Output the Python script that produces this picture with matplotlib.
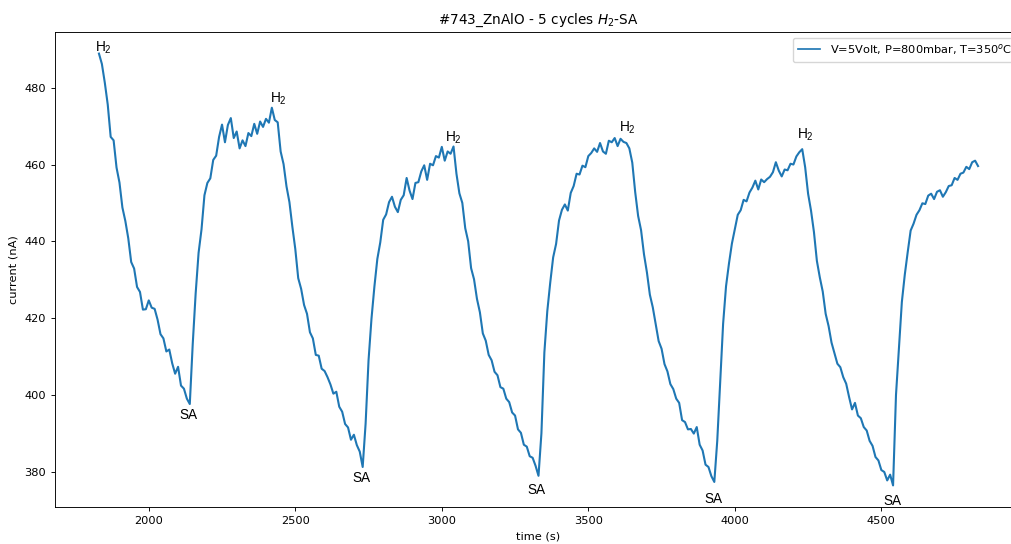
import numpy as np
import matplotlib
matplotlib.use("Agg")
import matplotlib.pyplot as plt

# current readings (nA), sampled every 10 s from t = 1830 s
current = [
    488.9, 486.2, 481.3, 475.6, 467.2, 466.3, 459.2, 455.3, 448.8, 445.3,
    440.8, 434.6, 432.9, 428.1, 426.8, 422.2, 422.3, 424.6, 422.7, 422.4,
    419.6, 415.8, 414.7, 411.3, 411.8, 408.2, 405.5, 407.3, 402.4, 401.6,
    399.0, 397.6, 413.2, 426.4, 437.0, 443.1, 452.0, 455.2, 456.4, 461.2,
    462.3, 467.2, 470.4, 465.8, 470.3, 472.1, 466.9, 468.6, 464.2, 466.3,
    464.8, 468.2, 467.4, 470.6, 468.0, 471.2, 469.8, 471.9, 470.9, 474.8,
    471.6, 471.0, 463.4, 460.1, 454.3, 450.2, 443.8, 438.0, 430.4, 427.6,
    423.4, 421.1, 416.3, 414.7, 410.4, 410.2, 406.8, 406.2, 404.6, 402.7,
    400.3, 400.8, 396.9, 395.6, 392.4, 391.5, 388.3, 389.6, 386.9, 385.2,
    381.2, 392.5, 409.0, 419.8, 428.2, 435.4, 439.7, 445.6, 447.0, 450.2,
    451.6, 449.0, 447.6, 450.8, 452.0, 456.5, 453.2, 451.0, 455.2, 455.4,
    458.2, 459.8, 456.0, 460.2, 459.8, 462.2, 461.8, 464.6, 461.0, 463.4,
    462.8, 464.7, 457.6, 452.5, 450.0, 443.4, 440.0, 433.0, 430.1, 425.0,
    421.5, 416.0, 414.1, 410.4, 409.0, 406.0, 405.1, 402.0, 401.6, 399.0,
    398.1, 395.4, 394.6, 391.0, 390.1, 387.0, 386.5, 384.0, 383.6, 381.5,
    378.9, 390.0, 411.0, 421.8, 429.2, 435.8, 439.3, 445.4, 448.2, 449.6,
    448.0, 452.6, 454.4, 457.6, 457.4, 459.7, 459.3, 462.2, 463.0, 464.2,
    463.3, 465.6, 463.4, 462.8, 466.2, 465.8, 466.9, 464.8, 466.7, 465.9,
    465.6, 464.2, 460.5, 452.8, 446.6, 442.9, 436.6, 431.9, 426.1, 422.8,
    418.4, 414.0, 412.0, 408.0, 406.1, 402.8, 401.5, 399.0, 397.9, 393.4,
    392.9, 391.0, 391.1, 389.9, 391.6, 387.0, 385.5, 381.8, 381.2, 378.8,
    377.3, 388.0, 403.0, 418.5, 428.3, 434.2, 439.4, 443.1, 446.9, 448.1,
    450.8, 450.4, 452.7, 454.0, 455.8, 453.5, 456.1, 455.4, 456.2, 456.8,
    458.0, 460.6, 458.4, 456.9, 458.7, 458.5, 460.2, 460.0, 462.1, 463.2,
    464.0, 459.3, 452.4, 448.0, 442.4, 434.9, 430.6, 426.9, 421.1, 417.9,
    413.6, 410.9, 408.1, 407.2, 404.6, 402.9, 399.4, 396.2, 397.9, 394.6,
    393.9, 391.6, 390.7, 388.0, 386.7, 383.8, 382.9, 380.4, 379.9, 377.7,
    379.2, 376.4, 400.0, 412.0, 424.2, 431.3, 437.2, 442.8, 444.6, 446.9,
    448.1, 449.9, 449.7, 451.9, 452.4, 451.0, 452.9, 453.3, 451.6, 452.8,
    454.4, 454.6, 456.5, 456.0, 457.6, 457.9, 459.4, 458.8, 460.6, 461.0, 459.6,
]
time = np.arange(1830, 1830 + 10 * len(current), 10)

# gas switch labels
h2_t = [1845, 2442, 3041, 3635, 4241]
h2_v = [490.3, 477.0, 466.9, 469.6, 467.8]
sa_t = [2135, 2726, 3322, 3928, 4539]
sa_v = [394.7, 378.2, 375.2, 372.8, 372.3]

s = 0.82
fig = plt.figure(figsize=(10.11, 5.44), dpi=100)
ax = fig.add_axes([55 / 1011, 37 / 544, 967 / 1011, 475 / 544])
ax.plot(time, current, color='#1f77b4', lw=1.5,
        label='V=5Volt, P=800mbar, T=350$^o$C')

for t, v in zip(h2_t, h2_v):
    ax.text(t, v, r'H$_\mathregular{2}$', family='Liberation Sans',
            fontsize=12 * s, ha='center', va='center')
for t, v in zip(sa_t, sa_v):
    ax.text(t, v, 'SA', family='Liberation Sans',
            fontsize=12 * s, ha='center', va='center')

ax.set_xticks([2000, 2500, 3000, 3500, 4000, 4500])
ax.set_yticks([380, 400, 420, 440, 460, 480])
ax.tick_params(labelsize=10 * s, length=3.5 * s, width=0.8 * s)
for sp in ax.spines.values():
    sp.set_linewidth(0.8 * s)
ax.set_xlabel('time (s)', fontsize=10 * s)
ax.set_ylabel('current (nA)', fontsize=10 * s)
ax.set_title('#743_ZnAlO - 5 cycles $H_2$-SA', fontsize=12 * s)
leg = ax.legend(loc='upper right', fontsize=10 * s)
leg.get_lines()[0].set_linewidth(1.5 * s)

fig.savefig('out.png', dpi=100)
